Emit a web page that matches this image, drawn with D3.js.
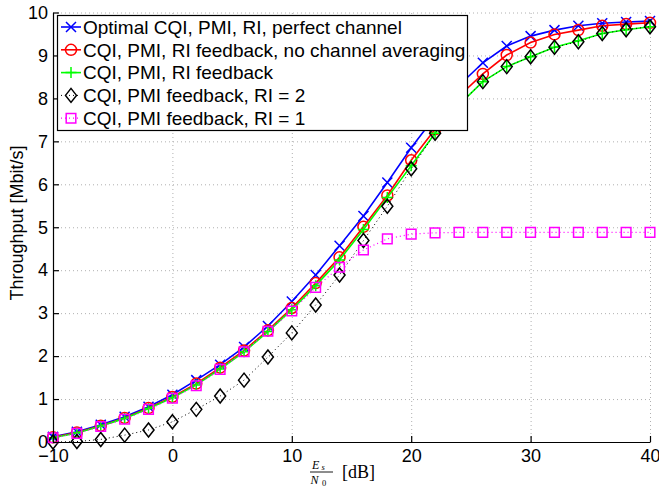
<!DOCTYPE html>
<html>
<head>
<meta charset="utf-8">
<script src="https://cdn.jsdelivr.net/npm/d3@7"></script>
<style>
  body { margin: 0; background: #fff; }
  svg { display: block; }
</style>
</head>
<body>
<svg id="chart" width="659" height="493"></svg>
<script>
// Es/N0 in dB
const snr = [-10, -8, -6, -4, -2, 0, 2, 4, 6, 8, 10, 12, 14, 16, 18, 20, 22, 24, 26, 28, 30, 32, 34, 36, 38, 40];

// throughput [Mbit/s]
const optimal = [0.12, 0.24, 0.40, 0.59, 0.82, 1.10, 1.44, 1.80, 2.21, 2.70, 3.27, 3.89, 4.57, 5.26, 6.04, 6.85, 7.58, 8.30, 8.83, 9.22, 9.45, 9.59, 9.69, 9.75, 9.78, 9.80];
const noAveraging = [0.11, 0.22, 0.38, 0.56, 0.79, 1.05, 1.36, 1.73, 2.13, 2.60, 3.12, 3.70, 4.30, 5.01, 5.74, 6.56, 7.28, 8.05, 8.57, 9.01, 9.30, 9.49, 9.59, 9.69, 9.73, 9.76];
const riFeedback = [0.10, 0.21, 0.37, 0.55, 0.78, 1.03, 1.33, 1.70, 2.10, 2.57, 3.08, 3.64, 4.24, 4.95, 5.69, 6.43, 7.19, 7.85, 8.39, 8.74, 8.97, 9.19, 9.34, 9.51, 9.60, 9.67];
const ri2 = [0.00, 0.01, 0.06, 0.16, 0.28, 0.47, 0.76, 1.07, 1.44, 1.98, 2.54, 3.19, 3.89, 4.69, 5.49, 6.36, 7.19, 7.85, 8.39, 8.74, 8.97, 9.19, 9.32, 9.51, 9.60, 9.67];
const ri1 = [0.10, 0.20, 0.36, 0.53, 0.76, 1.02, 1.31, 1.69, 2.10, 2.58, 3.05, 3.60, 4.07, 4.47, 4.73, 4.84, 4.87, 4.88, 4.88, 4.88, 4.88, 4.88, 4.88, 4.88, 4.88, 4.88];

const seriesNames = [
  'Optimal CQI, PMI, RI, perfect channel',
  'CQI, PMI, RI feedback, no channel averaging',
  'CQI, PMI, RI feedback',
  'CQI, PMI feedback, RI = 2',
  'CQI, PMI feedback, RI = 1',
];
const xTicks = [-10, 0, 10, 20, 30, 40];
const yTicks = [0, 1, 2, 3, 4, 5, 6, 7, 8, 9, 10];

const series = [
  { name: seriesNames[0], values: optimal, color: '#0000ff', marker: 'x', dash: null, width: 1.6 },
  { name: seriesNames[1], values: noAveraging, color: '#ff0000', marker: 'o', dash: null, width: 1.6 },
  { name: seriesNames[2], values: riFeedback, color: '#00ff00', marker: '+', dash: null, width: 1.6 },
  { name: seriesNames[3], values: ri2, color: '#000000', marker: 'd', dash: '1,3', width: 1 },
  { name: seriesNames[4], values: ri1, color: '#ff00ff', marker: 's', dash: '1,3', width: 1.2 },
];

const font = '"Liberation Sans", Arial, Helvetica, sans-serif';
const serif = '"Liberation Serif", "DejaVu Serif", serif';

const svg = d3.select('#chart');
const plotLeft = 53;
const plotRight = 650;
const plotTop = 12.5;
const plotBottom = 442;

const x = d3.scaleLinear().domain([-10, 40]).range([plotLeft, plotRight]);
const y = d3.scaleLinear().domain([0, 10]).range([plotBottom, plotTop]);

// marker shapes, centred on 0,0
function markerPath(type) {
  switch (type) {
    case 'x': return 'M-5,-5L5,5M-5,5L5,-5';
    case '+': return 'M-5.5,0L5.5,0M0,-5.5L0,5.5';
    case 'o': return 'M5.5,0A5.5,5.5 0 1 1 -5.5,0A5.5,5.5 0 1 1 5.5,0Z';
    case 'd': return 'M0,-7L5.5,0L0,7L-5.5,0Z';
    case 's': return 'M-4.8,-4.8L4.8,-4.8L4.8,4.8L-4.8,4.8Z';
    default: return '';
  }
}

// grid
const grid = svg.append('g')
  .attr('stroke', '#b0b0b0')
  .attr('stroke-width', 1)
  .attr('stroke-dasharray', '1,3');
grid.selectAll('.vgrid')
  .data(xTicks)
  .enter()
  .append('line')
  .attr('x1', d => x(d) + 0.5)
  .attr('x2', d => x(d) + 0.5)
  .attr('y1', plotBottom)
  .attr('y2', plotTop);
grid.selectAll('.hgrid')
  .data(yTicks)
  .enter()
  .append('line')
  .attr('x1', plotLeft)
  .attr('x2', plotRight)
  .attr('y1', d => y(d) + 0.5)
  .attr('y2', d => y(d) + 0.5);

// curves
const line = d3.line()
  .x((d, i) => x(snr[i]))
  .y(d => y(d));

const plot = svg.append('g');
series.forEach((s) => {
  plot.append('path')
    .datum(s.values)
    .attr('d', line)
    .attr('fill', 'none')
    .attr('stroke', s.color)
    .attr('stroke-width', s.width)
    .attr('stroke-dasharray', s.dash);
  plot.selectAll(null)
    .data(s.values)
    .enter()
    .append('path')
    .attr('transform', (d, i) => `translate(${x(snr[i])},${y(d)})`)
    .attr('d', markerPath(s.marker))
    .attr('fill', 'none')
    .attr('stroke', s.color)
    .attr('stroke-width', 1.5);
});

// axes, ticks pointing inwards like matlab
const xAxis = svg.append('g')
  .attr('transform', `translate(0,${plotBottom})`)
  .call(d3.axisBottom(x)
    .tickValues(xTicks)
    .tickSizeInner(-6)
    .tickSizeOuter(0)
    .tickPadding(7));
const yAxis = svg.append('g')
  .attr('transform', `translate(${plotLeft},0)`)
  .call(d3.axisLeft(y)
    .tickValues(yTicks)
    .tickSizeInner(-6)
    .tickSizeOuter(0)
    .tickPadding(5));

[xAxis, yAxis].forEach((g) => {
  g.selectAll('path, line').attr('stroke', '#000').attr('stroke-width', 1.2);
  g.selectAll('text')
    .attr('fill', '#000')
    .style('font-family', font)
    .style('font-size', '18px');
});

// y label
svg.append('text')
  .attr('transform', 'translate(23,223) rotate(-90)')
  .attr('text-anchor', 'middle')
  .style('font-family', font)
  .style('font-size', '18px')
  .text('Throughput [Mbit/s]');

// x label: Es/N0 [dB]
const xl = svg.append('g').attr('fill', '#000');
xl.append('text')
  .attr('x', 312)
  .attr('y', 468.5)
  .style('font-family', serif)
  .style('font-style', 'italic')
  .style('font-size', '12px')
  .text('E');
xl.append('text')
  .attr('x', 321.5)
  .attr('y', 470)
  .style('font-family', serif)
  .style('font-style', 'italic')
  .style('font-size', '8.5px')
  .text('s');
xl.append('line')
  .attr('x1', 310)
  .attr('x2', 333)
  .attr('y1', 472)
  .attr('y2', 472)
  .attr('stroke', '#000')
  .attr('stroke-width', 0.9);
xl.append('text')
  .attr('x', 310.5)
  .attr('y', 483.5)
  .style('font-family', serif)
  .style('font-style', 'italic')
  .style('font-size', '12px')
  .text('N');
xl.append('text')
  .attr('x', 322)
  .attr('y', 485.5)
  .style('font-family', serif)
  .style('font-size', '8.5px')
  .text('0');
xl.append('text')
  .attr('x', 342)
  .attr('y', 478)
  .style('font-family', serif)
  .style('font-size', '18px')
  .text('[dB]');

// legend
const legend = svg.append('g');
legend.append('rect')
  .attr('x', 57.5)
  .attr('y', 15.5)
  .attr('width', 410)
  .attr('height', 115)
  .attr('fill', '#fff')
  .attr('stroke', '#000')
  .attr('stroke-width', 1.2);

const rows = legend.selectAll('.row')
  .data(series)
  .enter()
  .append('g')
  .attr('transform', (d, i) => `translate(0,${27 + i * 22.8})`);
rows.append('line')
  .attr('x1', 61)
  .attr('x2', 81)
  .attr('stroke', d => d.color)
  .attr('stroke-width', d => d.width)
  .attr('stroke-dasharray', d => d.dash);
rows.append('path')
  .attr('transform', 'translate(71,0)')
  .attr('d', d => markerPath(d.marker))
  .attr('fill', 'none')
  .attr('stroke', d => d.color)
  .attr('stroke-width', 1.5);
rows.append('text')
  .attr('x', 83)
  .attr('y', 6.8)
  .style('font-family', font)
  .style('font-size', '19px')
  .text(d => d.name);
</script>
</body>
</html>
